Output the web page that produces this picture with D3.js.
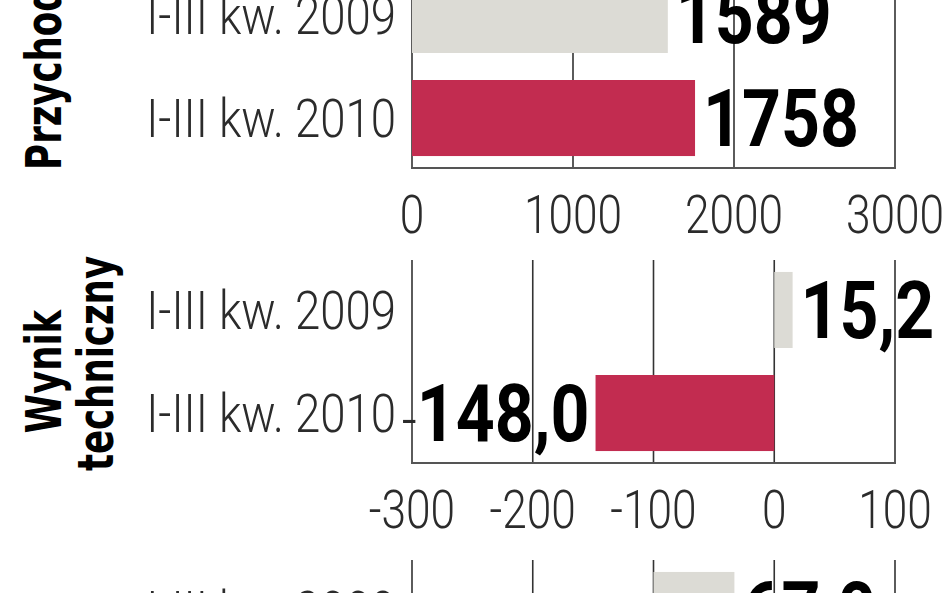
<!DOCTYPE html>
<html>
<head>
<meta charset="utf-8">
<script src="https://cdnjs.cloudflare.com/ajax/libs/d3/7.8.5/d3.min.js"></script>
<style>
  body { margin: 0; background: #fff; }
  svg { display: block; }
  .thin { font-family: Roboto, "DejaVu Sans", sans-serif; font-weight: 300; fill: #2b2b2b; }
  .bold { font-family: Roboto, "DejaVu Sans", sans-serif; font-weight: bold; fill: #000; }
  .title { font-family: "DejaVu Sans Condensed", "DejaVu Sans", sans-serif; font-weight: bold; fill: #000; }
</style>
</head>
<body>
<svg width="948" height="593"></svg>
<script>
// Data
var categories = ['I-III kw. 2009', 'I-III kw. 2010'];
var revenue = [1589, 1758];
var technicalResult = [15.2, -148.0];
var thirdResult = [67.0, null];   // second value is outside the crop

var revenueTicks = [0, 1000, 2000, 3000];
var technicalTicks = [-300, -200, -100, 0, 100];
var thirdTicks = [-200, -100, 0, 100, 200];

var panelTitles = [['Przychody'], ['Wynik', 'techniczny'], []];

var barColors = ['#dcdbd5', '#c22c50'];

var svg = d3.select('svg');

// Layout
var plotLeft = 412, plotRight = 895;
var panelHeight = 203;
var panelTops = [-35, 260, 560];
var squeeze = 0.835;      // fonts are narrower in the original

var panels = [
    {values: revenue, ticks: revenueTicks, decimals: 0, title: panelTitles[0]},
    {values: technicalResult, ticks: technicalTicks, decimals: 1, title: panelTitles[1]},
    {values: thirdResult, ticks: thirdTicks, decimals: 1, title: panelTitles[2]}
];

function formatValue(v, decimals) {
    return Math.abs(v).toFixed(decimals).replace('.', ',');
}

panels.forEach(function(p, i) {
    var top = panelTops[i];
    var bottom = top + panelHeight;

    var xScale = d3.scaleLinear()
        .domain(d3.extent(p.ticks))
        .range([plotLeft, plotRight]);

    var yScale = d3.scaleBand()
        .domain(categories)
        .range([top, bottom])
        .paddingInner(0.262)
        .paddingOuter(0.116);

    var g = svg.append('g');

    // vertical grid lines (incl. left and right frame)
    g.selectAll('.grid')
        .data(p.ticks)
        .enter().append('line')
        .attr('x1', function(d) { return xScale(d); })
        .attr('x2', function(d) { return xScale(d); })
        .attr('y1', top)
        .attr('y2', bottom)
        .attr('stroke', '#333')
        .attr('stroke-width', 1.6);

    // bottom axis line
    g.append('line')
        .attr('x1', xScale.range()[0] - 1).attr('x2', xScale.range()[1] + 1)
        .attr('y1', bottom).attr('y2', bottom)
        .attr('stroke', '#555')
        .attr('stroke-width', 2);

    var rows = categories.map(function(c, j) {
        return {cat: c, value: p.values[j], idx: j};
    }).filter(function(d) { return d.value !== null; });

    // bars
    g.selectAll('.bar')
        .data(rows)
        .enter().append('rect')
        .attr('x', function(d) { return xScale(Math.min(0, d.value)); })
        .attr('y', function(d) { return yScale(d.cat); })
        .attr('width', function(d) { return Math.abs(xScale(d.value) - xScale(0)); })
        .attr('height', yScale.bandwidth())
        .attr('fill', function(d) { return barColors[d.idx]; });

    // category labels
    g.selectAll('.cat')
        .data(categories)
        .enter().append('text')
        .attr('class', 'thin')
        .attr('transform', function(d) {
            return 'translate(' + [396, yScale(d) + yScale.bandwidth() / 2] + ') scale(0.86,1)';
        })
        .attr('dy', '0.35em')
        .attr('text-anchor', 'end')
        .style('font-size', '53px')
        .text(function(d) { return d; });

    // value labels
    var labels = g.selectAll('.val')
        .data(rows)
        .enter().append('text')
        .attr('class', 'bold')
        .attr('transform', function(d) {
            var x = d.value >= 0 ? xScale(d.value) + 8 : xScale(d.value) - 6;
            return 'translate(' + [x, yScale(d.cat) + yScale.bandwidth() / 2] + ') scale(0.85,1)';
        })
        .attr('dy', '0.35em')
        .attr('text-anchor', function(d) { return d.value >= 0 ? 'start' : 'end'; })
        .style('font-size', '80px');
    labels.filter(function(d) { return d.value < 0; })
        .append('tspan')
        .style('font-weight', '300')
        .style('font-size', '62px')
        .attr('fill', '#2b2b2b')
        .text('-');
    labels.append('tspan')
        .text(function(d) { return formatValue(d.value, p.decimals); });

    // tick labels
    g.selectAll('.tick')
        .data(p.ticks)
        .enter().append('text')
        .attr('class', 'thin')
        .attr('transform', function(d) {
            return 'translate(' + [xScale(d), bottom + 65] + ') scale(' + squeeze + ',1)';
        })
        .attr('text-anchor', 'middle')
        .style('font-size', '53px')
        .text(function(d) { return d; });

    // rotated panel title
    var cy = top + panelHeight / 2;
    p.title.forEach(function(line, k) {
        var shift = p.title.length > 1 ? 10 - k * 8 : 0;
        g.append('text')
            .attr('class', 'title')
            .attr('transform', 'translate(' + [61 + k * 52, cy + shift] + ') rotate(-90) scale(0.79,1)')
            .attr('text-anchor', 'middle')
            .style('font-size', '50px')
            .text(line);
    });
});
</script>
</body>
</html>
